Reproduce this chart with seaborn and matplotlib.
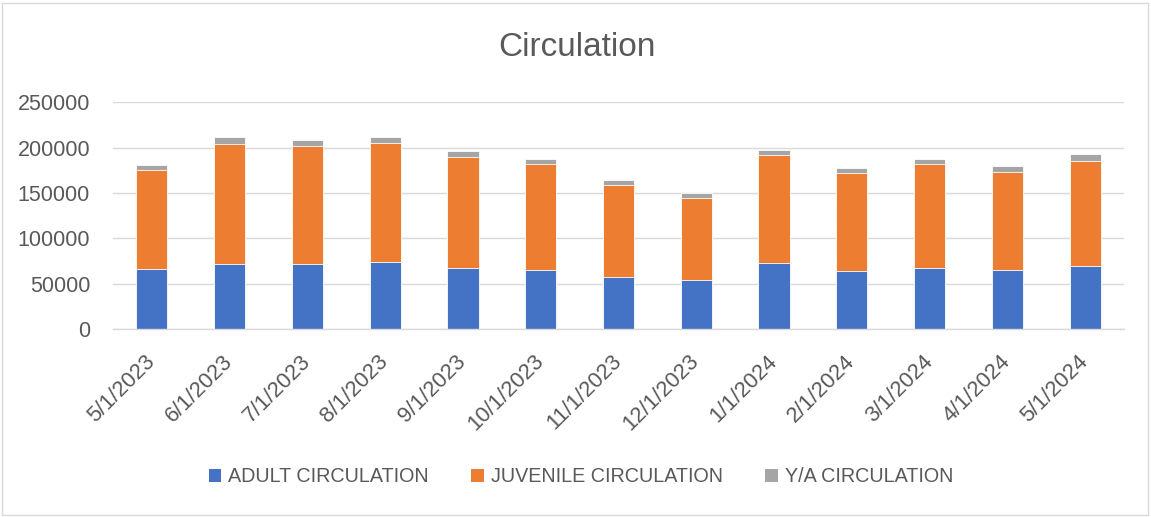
import matplotlib
matplotlib.use("Agg")
import matplotlib.pyplot as plt
from matplotlib.patches import Rectangle
import seaborn as sns
import pandas as pd
import numpy as np

dates = ["5/1/2023", "6/1/2023", "7/1/2023", "8/1/2023", "9/1/2023", "10/1/2023",
         "11/1/2023", "12/1/2023", "1/1/2024", "2/1/2024", "3/1/2024", "4/1/2024", "5/1/2024"]
adult = [66500, 71700, 71300, 74300, 67600, 65400, 57700, 54000, 72400, 64000, 66900, 64700, 69100]
juvenile = [108500, 132000, 130100, 130500, 121700, 116200, 100700, 90400, 119100, 107700, 114700, 108800, 115800]
ya = [6200, 8500, 7400, 7000, 6600, 6300, 5900, 5500, 6300, 5900, 6300, 6300, 7700]
series_names = ["ADULT CIRCULATION", "JUVENILE CIRCULATION", "Y/A CIRCULATION"]
y_ticks = [0, 50000, 100000, 150000, 200000, 250000]

colors = ["#4472C4", "#ED7D31", "#A5A5A5"]
text_color = "#595959"
grid_color = "#D9D9D9"

sns.set_style("white")
plt.rcParams["font.family"] = ["Liberation Sans", "DejaVu Sans"]

df = pd.DataFrame({"date": dates, "adult": adult, "juvenile": juvenile, "ya": ya})
df["c1"] = df["adult"]
df["c2"] = df["adult"] + df["juvenile"]
df["c3"] = df["c2"] + df["ya"]

W, H = 1151, 517
fig = plt.figure(figsize=(W / 100, H / 100), dpi=100)
ax = fig.add_axes([113 / W, 1 - 329 / H, (1124 - 113) / W, (329 - 102.3) / H])

for col, name, c in [("c3", series_names[2], colors[2]),
                     ("c2", series_names[1], colors[1]),
                     ("c1", series_names[0], colors[0])]:
    sns.barplot(data=df, x="date", y=col, order=dates, color=c, saturation=1,
                width=0.4, errorbar=None, label=name, ax=ax,
                edgecolor="white", linewidth=0.6, zorder=3)

handles, labels = ax.get_legend_handles_labels()
if ax.get_legend() is not None:
    ax.get_legend().remove()

ax.set_xlim(-0.5, len(dates) - 0.5)
ax.set_ylim(0, 250000)
ax.set_yticks(y_ticks)
ax.set_yticklabels([str(v) for v in y_ticks])
ax.set_xlabel("")
ax.set_ylabel("")

ax.yaxis.grid(True, color=grid_color, linewidth=1.0, zorder=0)
ax.xaxis.grid(False)
for s in ["top", "right", "left"]:
    ax.spines[s].set_visible(False)
ax.spines["bottom"].set_color(grid_color)
ax.spines["bottom"].set_linewidth(1.0)
ax.spines["bottom"].set_zorder(4)

ax.tick_params(axis="y", length=0, pad=16.5, labelsize=15.5, labelcolor=text_color)
ax.tick_params(axis="x", which="major", length=0, pad=21, labelsize=15.8, labelcolor=text_color)
ax.set_xticks(np.arange(-0.5, len(dates), 1.0), minor=True)
ax.tick_params(axis="x", which="minor", length=5, width=1.0, color=grid_color, direction="out")
for lbl in ax.get_xticklabels():
    lbl.set_rotation(45)
    lbl.set_ha("right")
    lbl.set_va("center")
    lbl.set_rotation_mode("anchor")

fig.text(576.5 / W, 1 - 47 / H, "Circulation", ha="center", va="center",
         fontsize=24, color=text_color)

order = [labels.index(n) for n in series_names]
leg = fig.legend([handles[i] for i in order], [labels[i] for i in order],
                 loc="center", bbox_to_anchor=(581 / W, 1 - 477 / H), ncol=3,
                 frameon=False, fontsize=14.2, handlelength=0.65, handleheight=0.65,
                 handletextpad=0.35, columnspacing=2.15, labelcolor=text_color)
for h in leg.legend_handles:
    h.set_edgecolor("none")

fig.patches.append(Rectangle((2 / W, 2 / H), (1148 - 2) / W, (514 - 2) / H,
                             transform=fig.transFigure, fill=False,
                             edgecolor=grid_color, linewidth=1.0))

fig.savefig("out.png", dpi=100)
